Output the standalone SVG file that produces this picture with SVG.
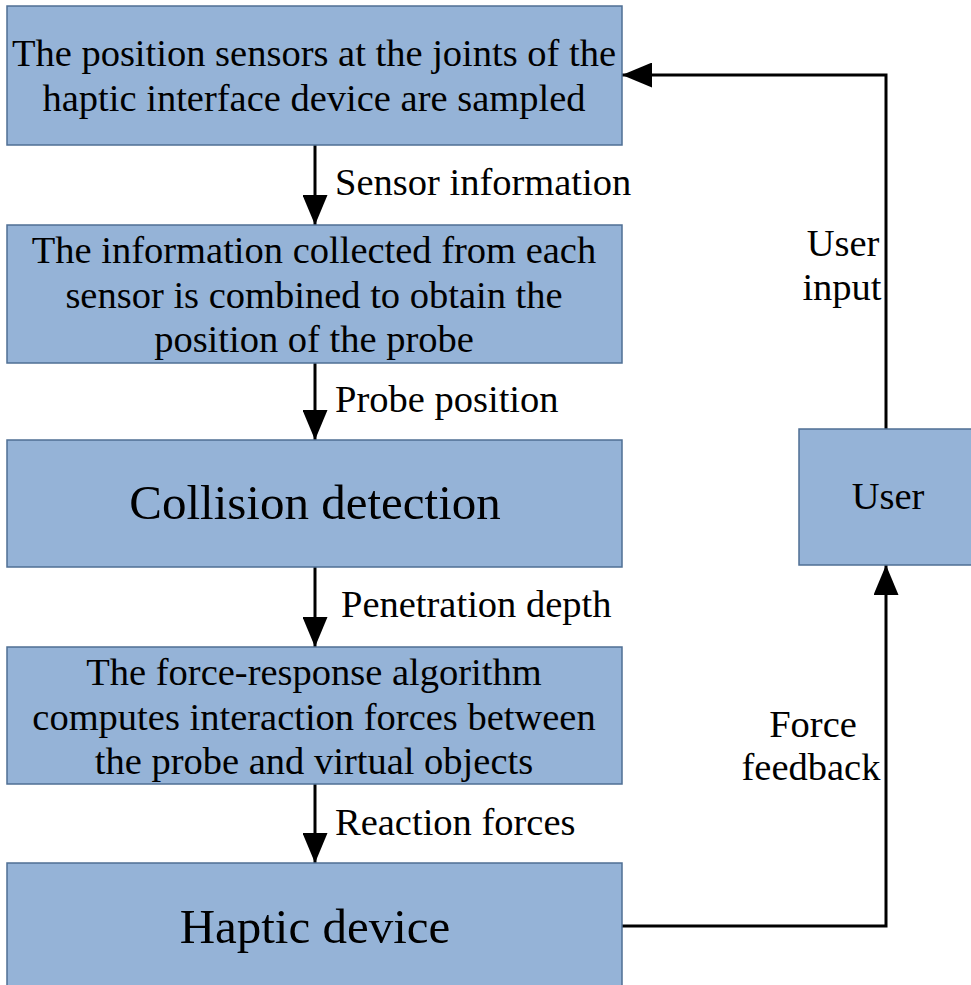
<svg xmlns="http://www.w3.org/2000/svg" width="971" height="985" viewBox="0 0 971 985">
<defs>
<style>
.box{fill:#95b3d7;stroke:#4f6f94;stroke-width:1.5}
text{font-family:'Liberation Serif','DejaVu Serif',serif;fill:#000}
.t{font-size:38.5px;text-anchor:middle}
.big{font-size:49px}
.lbl{font-size:38.5px}
.c{fill:none;stroke:#000;stroke-width:3}
</style>
<marker id="ah" viewBox="0 0 10 10" refX="10" refY="5" markerUnits="userSpaceOnUse" markerWidth="30" markerHeight="25" orient="auto" preserveAspectRatio="none">
<path d="M0,0 L10,5 L0,10 z" fill="#000"/>
</marker>
</defs>
<rect width="971" height="985" fill="#fff"/>
<g id="connectors">
<line class="c" x1="315" y1="145" x2="315" y2="225" marker-end="url(#ah)"/>
<line class="c" x1="315" y1="363" x2="315" y2="440" marker-end="url(#ah)"/>
<line class="c" x1="315" y1="567" x2="315" y2="647" marker-end="url(#ah)"/>
<line class="c" x1="315" y1="784" x2="315" y2="863" marker-end="url(#ah)"/>
<polyline class="c" points="886,429 886,75 622,75" marker-end="url(#ah)"/>
<polyline class="c" points="622,926 886,926 886,565" marker-end="url(#ah)"/>
<text class="lbl" x="335" y="195">Sensor information</text>
<text class="lbl" x="335" y="412">Probe position</text>
<text class="lbl" x="341" y="617">Penetration depth</text>
<text class="lbl" x="335" y="835">Reaction forces</text>
<text class="t" x="843" y="256">User</text>
<text class="t" x="842" y="300">input</text>
<text class="t" x="813" y="737">Force</text>
<text class="t" x="811" y="780">feedback</text>
</g>
<g id="n1">
<rect class="box" x="7" y="6" width="615" height="139"/>
<text class="t" x="314" y="66">The position sensors at the joints of the</text>
<text class="t" x="314" y="111">haptic interface device are sampled</text>
</g>
<g id="n2">
<rect class="box" x="7" y="225" width="615" height="138"/>
<text class="t" x="314" y="263">The information collected from each</text>
<text class="t" x="314" y="308">sensor is combined to obtain the</text>
<text class="t" x="314" y="352">position of the probe</text>
</g>
<g id="n3">
<rect class="box" x="7" y="440" width="615" height="127"/>
<text class="t big" x="315" y="519">Collision detection</text>
</g>
<g id="n4">
<rect class="box" x="7" y="647" width="615" height="137"/>
<text class="t" x="314" y="685">The force-response algorithm</text>
<text class="t" x="314" y="730">computes interaction forces between</text>
<text class="t" x="314" y="774">the probe and virtual objects</text>
</g>
<g id="n5">
<rect class="box" x="7" y="863" width="615" height="130"/>
<text class="t big" x="315" y="943">Haptic device</text>
</g>
<g id="n6">
<rect class="box" x="799" y="429" width="180" height="136"/>
<text class="t" x="888" y="509">User</text>
</g>
</svg>
